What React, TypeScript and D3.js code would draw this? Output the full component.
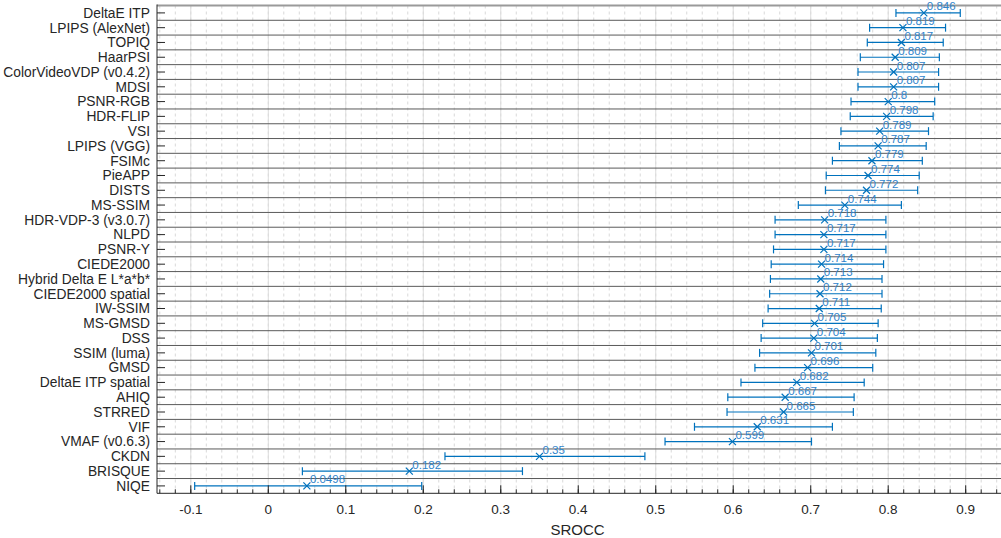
import React from "react";
import * as d3 from "d3";

const metrics = [
  "DeltaE ITP", "LPIPS (AlexNet)", "TOPIQ", "HaarPSI", "ColorVideoVDP (v0.4.2)", "MDSI",
  "PSNR-RGB", "HDR-FLIP", "VSI", "LPIPS (VGG)", "FSIMc", "PieAPP", "DISTS", "MS-SSIM",
  "HDR-VDP-3 (v3.0.7)", "NLPD", "PSNR-Y", "CIEDE2000", "Hybrid Delta E L*a*b*",
  "CIEDE2000 spatial", "IW-SSIM", "MS-GMSD", "DSS", "SSIM (luma)", "GMSD",
  "DeltaE ITP spatial", "AHIQ", "STRRED", "VIF", "VMAF (v0.6.3)", "CKDN", "BRISQUE", "NIQE",
];

const srocc = [
  0.846, 0.819, 0.817, 0.809, 0.807, 0.807, 0.8, 0.798, 0.789, 0.787, 0.779, 0.774, 0.772,
  0.744, 0.718, 0.717, 0.717, 0.714, 0.713, 0.712, 0.711, 0.705, 0.704, 0.701, 0.696,
  0.682, 0.667, 0.665, 0.631, 0.599, 0.35, 0.182, 0.0498,
];

const ciLow = [
  0.810, 0.776, 0.773, 0.764, 0.761, 0.761, 0.752, 0.751, 0.739, 0.737, 0.728, 0.720, 0.719,
  0.684, 0.654, 0.654, 0.652, 0.649, 0.648, 0.647, 0.645, 0.638, 0.636, 0.634, 0.628,
  0.610, 0.593, 0.592, 0.550, 0.512, 0.228, 0.044, -0.095,
];

const ciHigh = [
  0.893, 0.874, 0.871, 0.866, 0.865, 0.865, 0.860, 0.858, 0.852, 0.849, 0.844, 0.840, 0.838,
  0.817, 0.797, 0.797, 0.797, 0.794, 0.792, 0.792, 0.791, 0.787, 0.786, 0.784, 0.780,
  0.769, 0.756, 0.755, 0.728, 0.701, 0.486, 0.328, 0.198,
];

const xTicks = [-0.1, 0, 0.1, 0.2, 0.3, 0.4, 0.5, 0.6, 0.7, 0.8, 0.9];
const xTickLabels = ["-0.1", "0", "0.1", "0.2", "0.3", "0.4", "0.5", "0.6", "0.7", "0.8", "0.9"];
const xLabel = "SROCC";

const W = 1001;
const H = 538;
const LEFT = 157;
const RIGHT = 1001;
const TOP = 5.5;
const BOTTOM = 493.3;
const BLUE = "#0072BD";
const TEXTBLUE = "#2f84cc";
const AXIS = "#262626";
const FONT = "'Liberation Sans', Arial, Helvetica, sans-serif";

export default function App() {
  const x = d3.scaleLinear().domain([-0.1, 0.9]).range([190.8, 965.7]);
  const y = d3.scaleBand<string>().domain(metrics).range([TOP, BOTTOM]);
  const bw = y.bandwidth();
  const cy = (m: string) => (y(m) as number) + bw / 2;

  const minor = d3.range(-14, 48).map((i) => i * 0.02).filter((v) => x(v) >= LEFT && x(v) <= RIGHT);

  return (
    <svg
      width={W}
      height={H}
      style={{ position: "absolute", left: 0, top: 0, background: "#fff" }}
      fontFamily={FONT}
    >
      <rect x={0} y={0} width={W} height={H} fill="#fff" />
      {/* minor grid */}
      {minor.map((v, i) => (
        <line key={"mg" + i} x1={x(v)} x2={x(v)} y1={TOP} y2={BOTTOM}
          stroke="#d9d9d9" strokeWidth={1} strokeDasharray="3,3" />
      ))}
      {/* major grid */}
      {xTicks.map((v, i) => (
        <line key={"g" + i} x1={x(v)} x2={x(v)} y1={TOP} y2={BOTTOM}
          stroke="#dcdcdc" strokeWidth={1} />
      ))}
      {/* row separators */}
      {metrics.slice(1).map((m, i) => (
        <line key={"sep" + i} x1={LEFT} x2={RIGHT} y1={y(m) as number} y2={y(m) as number}
          stroke="#5a5a5a" strokeWidth={1} />
      ))}
      {/* top border */}
      <line x1={LEFT} x2={RIGHT} y1={TOP} y2={TOP} stroke="#9a9a9a" strokeWidth={2} />

      {/* error bars */}
      {metrics.map((m, i) => {
        const yy = cy(m);
        const xl = x(ciLow[i]);
        const xh = x(ciHigh[i]);
        const xm = x(srocc[i]);
        return (
          <g key={"eb" + i}>
            <line x1={xl} x2={xh} y1={yy} y2={yy} stroke={BLUE} strokeWidth={1.2} />
            <line x1={xl} x2={xl} y1={yy - 4} y2={yy + 4} stroke={BLUE} strokeWidth={1.2} />
            <line x1={xh} x2={xh} y1={yy - 4} y2={yy + 4} stroke={BLUE} strokeWidth={1.2} />
            <line x1={xm - 3.5} x2={xm + 3.5} y1={yy - 3.5} y2={yy + 3.5} stroke={BLUE} strokeWidth={1.2} />
            <line x1={xm - 3.5} x2={xm + 3.5} y1={yy + 3.5} y2={yy - 3.5} stroke={BLUE} strokeWidth={1.2} />
            <text x={xm + 3} y={yy - 2.5} fontSize={11.5} fill={TEXTBLUE}>
              {String(srocc[i])}
            </text>
          </g>
        );
      })}

      {/* y axis */}
      <line x1={LEFT} x2={LEFT} y1={TOP - 1} y2={BOTTOM} stroke={AXIS} strokeWidth={1} />
      {metrics.map((m, i) => (
        <g key={"yt" + i}>
          <line x1={LEFT} x2={LEFT + 8} y1={cy(m)} y2={cy(m)} stroke={AXIS} strokeWidth={1} />
          <text x={LEFT - 7} y={cy(m)} dy="0.35em" textAnchor="end" fontSize={13.8} fill={AXIS}>
            {m}
          </text>
        </g>
      ))}

      {/* x axis */}
      <line x1={LEFT} x2={RIGHT} y1={BOTTOM} y2={BOTTOM} stroke={AXIS} strokeWidth={1} />
      {minor.map((v, i) => (
        <line key={"mt" + i} x1={x(v)} x2={x(v)} y1={BOTTOM} y2={BOTTOM - 4} stroke={AXIS} strokeWidth={1} />
      ))}
      {xTicks.map((v, i) => (
        <g key={"xt" + i}>
          <line x1={x(v)} x2={x(v)} y1={BOTTOM} y2={BOTTOM - 8} stroke={AXIS} strokeWidth={1} />
          <text x={x(v)} y={BOTTOM + 21} textAnchor="middle" fontSize={13.5} fill={AXIS}>
            {xTickLabels[i]}
          </text>
        </g>
      ))}
      <text x={(LEFT + 998) / 2} y={535} textAnchor="middle" fontSize={15} fill={AXIS}>
        {xLabel}
      </text>
    </svg>
  );
}
